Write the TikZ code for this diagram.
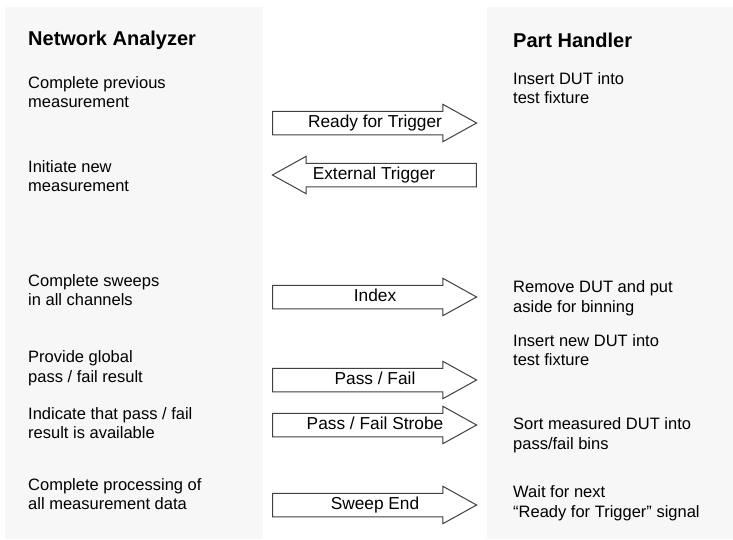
\documentclass[tikz,border=0pt]{standalone}
\usepackage{fontspec}
\setmainfont{Liberation Sans}
\usetikzlibrary{shapes.arrows, positioning}

\begin{document}
\begin{tikzpicture}[
        x=1pt, y=-1pt,
        panel/.style={fill=black!3, draw=none},
        title/.style={anchor=west, inner sep=0pt, font=\fontsize{20}{23}\selectfont\bfseries},
        txt/.style={anchor=west, inner sep=0pt, align=left, font=\fontsize{16.5}{19.5}\selectfont},
        sig/.style={single arrow, draw=black!75, fill=white, line width=1pt,
            minimum height=204pt, single arrow head extend=7pt, single arrow tip angle=58,
            inner xsep=2pt, inner ysep=3.5pt, text height=12pt, text depth=3.5pt,
            execute at begin node=\hspace*{22pt},
            font=\fontsize{17.3}{19.5}\selectfont},
        sigback/.style={single arrow, draw=black!75, fill=white, line width=1pt,
            minimum height=204pt, single arrow head extend=7pt, single arrow tip angle=58,
            inner xsep=2pt, inner ysep=3.5pt, text height=12pt, text depth=3.5pt,
            execute at end node=\hspace*{22pt}, shape border rotate=180,
            font=\fontsize{17.3}{19.5}\selectfont}
    ]
        \useasboundingbox (0,0) rectangle (733,539);

        % ================= PANELES =================
        \fill[panel] (5,7) rectangle (263,539);
        \fill[panel] (487,7) rectangle (733,539);

        % ================= ANALIZADOR =================
        \node[title] (na) at (28,40) {Network Analyzer};
        \node[txt] (na1) at (28,92) {Complete previous\\measurement};
        \node[txt] (na2) at (28,176) {Initiate new\\measurement};
        \node[txt] (na3) at (28,290) {Complete sweeps\\in all channels};
        \node[txt] (na4) at (28,368) {Provide global\\pass / fail result};
        \node[txt] (na5) at (28,423) {Indicate that pass / fail\\result is available};
        \node[txt] (na6) at (28,494) {Complete processing of\\all measurement data};

        % ================= MANIPULADOR =================
        \node[title] (ph) at (513,40) {Part Handler};
        \node[txt] (ph1) at (513,88) {Insert DUT into\\test fixture};
        \node[txt] (ph2) at (513,298) {Remove DUT and put\\aside for binning};
        \node[txt] (ph3) at (513,350) {Insert new DUT into\\test fixture};
        \node[txt] (ph4) at (513,435) {Sort measured DUT into\\pass/fail bins};
        \node[txt] (ph5) at (513,503) {Wait for next\\“Ready for Trigger” signal};

        % ================= SENALES =================
        \node[sig] (rft) at (364,123) {Ready for Trigger};
        \node[sigback] (ext) at (385,175) {External Trigger};
        \node[sig] (idx) at (364,297) {Index};
        \node[sig] (pf) at (364,380) {Pass / Fail};
        \node[sig] (pfs) at (364,425) {Pass / Fail Strobe};
        \node[sig] (swe) at (364,505) {Sweep End};

    \end{tikzpicture}
\end{document}
